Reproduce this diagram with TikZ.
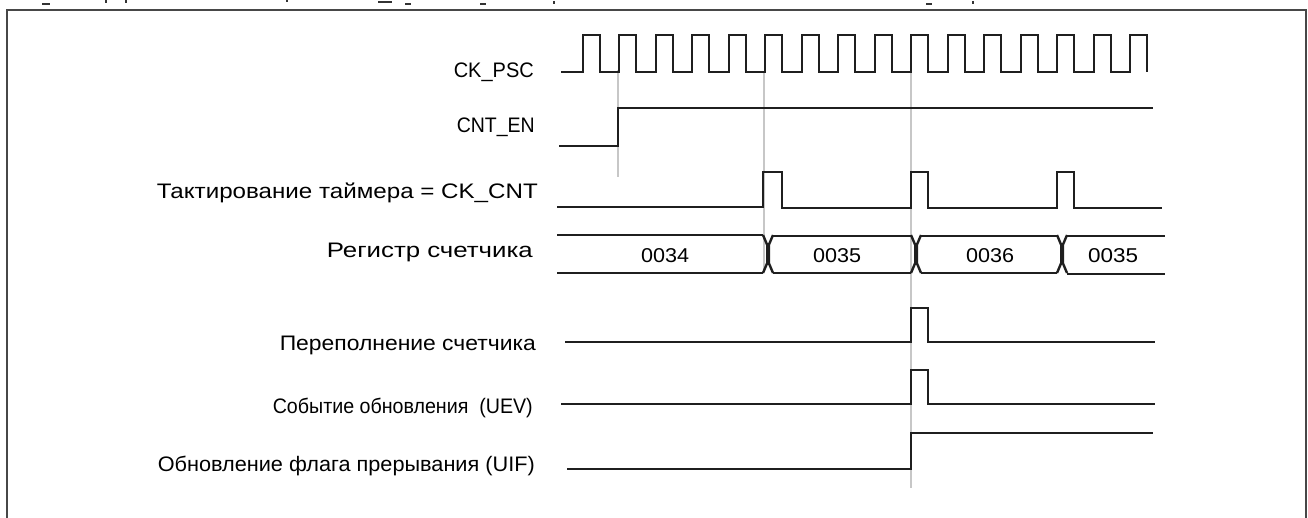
\documentclass[tikz,border=0pt]{standalone}
\usepackage{fontspec}
\usepackage{graphicx}
\setmainfont{Liberation Sans}
\newcommand{\fitlabel}[2]{\resizebox{#1pt}{\height}{#2}}
\begin{document}
\begin{tikzpicture}[x=1pt,y=-1pt,
  sig/.style={line width=2pt, black!88, line join=miter},
  guide/.style={line width=1.6pt, black!22},
  frameline/.style={line width=2.5pt, black!72},
  frag/.style={line width=1.5pt, black!80},
  lab/.style={anchor=east, font=\fontsize{21}{24}\selectfont, inner sep=0pt},
  val/.style={font=\fontsize{20}{22}\selectfont, inner sep=0pt}]
\useasboundingbox (0,0) rectangle (1308,518);
% frame
\draw[frameline] (7,518) -- (7,10) -- (1306,10) -- (1306,518);
% fragments of a cut-off line above the frame
\draw[frag] (42,4) -- (50,4);
\draw[frag] (106,0) -- (106,3);
\draw[frag] (126,0) -- (126,3);
\draw[frag] (287,0) -- (287,2);
\draw[frag] (378,2) -- (392,2);
\draw[frag] (405,4) -- (411,4);
\draw[frag] (480,4) -- (486,4);
\draw[frag] (554,1) -- (554,4);
\draw[frag] (926,4) -- (932,4);
\draw[frag] (973,1) -- (973,4);
% guide lines
\draw[guide, line width=2.4pt] (618,70) -- (618,177);
\draw[guide] (764,72) -- (764,270);
\draw[guide] (911,72) -- (911,488);
% labels
\node[lab] (lpsc) at (534,72) {\fitlabel{80}{CK\_PSC}};
\node[lab] (len) at (535,127) {\fitlabel{78}{CNT\_EN}};
\node[lab] (lcnt) at (538,193) {\fitlabel{381}{Тактирование таймера = CK\_CNT}};
\node[lab] (lreg) at (533,252) {\fitlabel{206}{Регистр счетчика}};
\node[lab] (lovf) at (536,345) {\fitlabel{256}{Переполнение счетчика}};
\node[lab] (luev) at (533,408) {\fitlabel{260}{Событие обновления~ (UEV)}};
\node[lab] (luif) at (535,466) {\fitlabel{377}{Обновление флага прерывания (UIF)}};
% CK_PSC
\draw[sig] (561,72) foreach \i in {0,...,15} { -- ({582.5+36.5*\i},72) -- ({582.5+36.5*\i},35) -- ({599.5+36.5*\i},35) -- ({599.5+36.5*\i},72) };
% CNT_EN
\draw[sig] (559,146) -- (618,146) -- (618,108) -- (1153,108);
% CK_CNT
\draw[sig] (557,207) -- (763,207) -- (763,172) -- (782,172) -- (782,208) -- (911,208) -- (911,172) -- (928,172) -- (928,208) -- (1057,208) -- (1057,172) -- (1074,172) -- (1074,208) -- (1162,208);
% counter register
\draw[sig] (557,235) -- (763,235) (557,273) -- (763,273);
\draw[sig] (773,236) -- (911,236) (773,273) -- (911,273);
\draw[sig] (921,236) -- (1057,236) (921,273) -- (1057,273);
\draw[sig] (1067,236) -- (1165,236) (1067,274) -- (1165,274);
\foreach \x in {768,916,1062} {
  \draw[sig, line width=2.4pt] ({\x-5},235) -- ({\x-0.8},245) -- ({\x-0.8},263) -- ({\x-5},273);
  \draw[sig, line width=2.4pt] ({\x+5},235) -- ({\x+0.8},245) -- ({\x+0.8},263) -- ({\x+5},273);
}
\node[val] (v1) at (665,256) {\fitlabel{48}{0034}};
\node[val] (v2) at (837,256) {\fitlabel{48}{0035}};
\node[val] (v3) at (990,256) {\fitlabel{48}{0036}};
\node[val] (v4) at (1113,256) {\fitlabel{50}{0035}};
% overflow
\draw[sig] (565,342) -- (911,342) -- (911,308) -- (928,308) -- (928,342) -- (1155,342);
% UEV
\draw[sig] (561,404) -- (911,404) -- (911,370) -- (928,370) -- (928,404) -- (1155,404);
% UIF
\draw[sig] (567,469) -- (911,469) -- (911,433) -- (1153,433);
\end{tikzpicture}
\end{document}
